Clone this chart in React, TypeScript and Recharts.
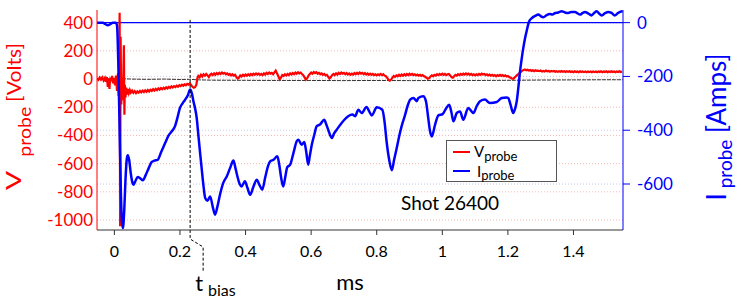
import { LineChart, Line, XAxis, YAxis, CartesianGrid, ReferenceLine } from "recharts";

const FONT = "Lato, 'Open Sans', sans-serif";
const RED = "#ff0000";
const BLUE = "#0000ff";

// axes
const timeTicks = [0, 0.2, 0.4, 0.6, 0.8, 1, 1.2, 1.4];
const voltTicks = [-1000, -800, -600, -400, -200, 0, 200, 400];
const ampTicks = [-600, -400, -200, 0];
const biasTime = 0.231;
const shotLabel = "Shot 26400";

// I_probe [A] vs time [ms]
const currentTrace: [number, number][] = [
  [-0.053, 0], [-0.035, 0], [-0.028, -5], [-0.02, -10], [-0.012, -5], [-0.005, 0], [0.004, 0],
  [0.008, -10], [0.012, -150], [0.016, -400], [0.02, -640], [0.023, -740], [0.026, -764],
  [0.03, -700], [0.034, -580], [0.038, -505], [0.041, -493], [0.045, -510], [0.05, -560],
  [0.055, -595], [0.058, -603], [0.063, -592], [0.071, -574], [0.078, -578], [0.087, -586],
  [0.095, -568], [0.105, -540], [0.114, -518], [0.122, -513], [0.132, -510], [0.143, -480],
  [0.155, -447], [0.165, -420], [0.175, -404], [0.185, -385], [0.192, -355], [0.2, -317],
  [0.208, -300], [0.216, -286], [0.224, -270], [0.231, -249], [0.236, -262], [0.241, -292],
  [0.246, -318], [0.251, -354], [0.256, -417], [0.261, -480], [0.266, -540], [0.272, -610],
  [0.277, -652], [0.284, -662], [0.292, -646], [0.3, -685], [0.307, -714], [0.314, -685],
  [0.322, -640], [0.332, -596], [0.343, -571], [0.353, -540], [0.363, -513], [0.369, -540],
  [0.375, -571], [0.382, -600], [0.388, -609], [0.398, -590], [0.406, -615], [0.414, -640],
  [0.424, -610], [0.434, -584], [0.443, -605], [0.451, -621], [0.46, -575], [0.468, -535],
  [0.475, -516], [0.485, -510], [0.497, -497], [0.503, -530], [0.509, -580], [0.515, -609],
  [0.521, -575], [0.527, -538], [0.536, -528], [0.546, -485], [0.556, -441], [0.561, -435],
  [0.571, -454], [0.579, -444], [0.585, -480], [0.591, -528], [0.596, -495], [0.602, -454],
  [0.61, -415], [0.617, -385], [0.627, -379], [0.64, -361], [0.646, -378], [0.652, -398],
  [0.663, -429], [0.67, -412], [0.678, -398], [0.693, -373], [0.713, -348], [0.726, -342],
  [0.734, -348], [0.744, -324], [0.754, -336], [0.769, -314], [0.777, -330], [0.785, -345],
  [0.8, -315], [0.817, -324], [0.824, -370], [0.83, -441], [0.838, -510], [0.846, -549],
  [0.853, -510], [0.861, -466], [0.868, -425], [0.876, -385], [0.886, -345], [0.894, -310],
  [0.902, -286], [0.912, -280], [0.922, -292], [0.927, -280], [0.942, -274], [0.95, -292],
  [0.957, -354], [0.962, -400], [0.968, -423], [0.978, -379], [0.988, -345], [1.001, -340],
  [1.011, -320], [1.021, -305], [1.028, -335], [1.034, -367], [1.044, -336], [1.054, -330],
  [1.064, -361], [1.079, -317], [1.095, -336], [1.105, -310], [1.115, -292], [1.13, -286],
  [1.145, -299], [1.166, -295], [1.181, -280], [1.196, -278], [1.201, -280], [1.208, -305],
  [1.216, -336], [1.222, -320], [1.227, -292], [1.232, -240], [1.237, -181], [1.242, -135],
  [1.247, -94], [1.252, -60], [1.257, -32], [1.265, 5], [1.273, 17], [1.283, 25], [1.293, 30],
  [1.3, 24], [1.308, 20], [1.318, 28], [1.328, 32], [1.336, 30], [1.344, 36], [1.354, 38],
  [1.364, 42], [1.374, 38], [1.384, 36], [1.394, 40], [1.405, 40], [1.412, 35], [1.42, 30],
  [1.428, 36], [1.435, 40], [1.445, 34], [1.455, 27], [1.463, 36], [1.471, 42], [1.478, 34],
  [1.486, 27], [1.496, 35], [1.506, 40], [1.516, 36], [1.526, 27], [1.534, 34], [1.542, 40],
  [1.55, 42],
];

// V_probe [V] vs time [ms]
const voltageTrace: [number, number][] = [
  [-0.053, 5], [-0.049, -6], [-0.045, 10], [-0.041, -4], [-0.037, 12], [-0.033, -10], [-0.029, 8],
  [-0.026, -18], [-0.023, 14], [-0.02, -55], [-0.018, 6], [-0.015, -70], [-0.013, 10], [-0.01, -15],
  [-0.007, 22], [-0.004, -30], [-0.001, 8], [0.002, -45], [0.005, 25], [0.008, -85], [0.011, 40],
  [0.013, -120], [0.015, 60], [0.016, 470], [0.0175, -1045], [0.019, 300], [0.021, -180],
  [0.023, -60], [0.025, -150], [0.027, -20], [0.029, 240], [0.0305, -253], [0.032, -40],
  [0.034, -130], [0.036, -60], [0.038, -110], [0.041, -70], [0.044, -100], [0.047, -78],
  [0.05, -96], [0.054, -82], [0.058, -98], [0.062, -86], [0.066, -100], [0.07, -88], [0.074, -96],
  [0.078, -84], [0.082, -94], [0.086, -82], [0.09, -92], [0.094, -80], [0.098, -90], [0.102, -78],
  [0.106, -88], [0.11, -76], [0.114, -84], [0.118, -72], [0.122, -82], [0.126, -70], [0.13, -78],
  [0.134, -66], [0.138, -75], [0.142, -64], [0.146, -72], [0.15, -62], [0.154, -70], [0.158, -58],
  [0.162, -66], [0.166, -56], [0.17, -63], [0.174, -52], [0.178, -60], [0.182, -50], [0.186, -57],
  [0.19, -47], [0.194, -54], [0.198, -44], [0.202, -50], [0.206, -40], [0.21, -47], [0.214, -38],
  [0.218, -44], [0.222, -34], [0.226, -40], [0.23, -32], [0.234, -42], [0.238, -55], [0.242, -62],
  [0.246, -58], [0.25, -40], [0.253, 5], [0.256, 22], [0.26, 12], [0.264, 30], [0.268, 18],
  [0.272, 34], [0.276, 24], [0.28, 36], [0.284, 26], [0.288, 14], [0.292, 30], [0.296, 38],
  [0.3, 28], [0.304, 40], [0.308, 30], [0.312, 42], [0.316, 34], [0.32, 44], [0.324, 36],
  [0.328, 46], [0.332, 38], [0.336, 44], [0.34, 34], [0.344, 40], [0.348, 30], [0.352, 36],
  [0.356, 26], [0.36, 34], [0.364, 24], [0.368, 30], [0.372, 14], [0.376, 4], [0.38, 10],
  [0.384, 26], [0.388, 18], [0.392, 30], [0.396, 22], [0.4, 32], [0.404, 24], [0.408, 34],
  [0.412, 26], [0.416, 36], [0.42, 28], [0.424, 38], [0.428, 30], [0.432, 40], [0.436, 32],
  [0.44, 38], [0.444, 30], [0.448, 36], [0.452, 28], [0.456, 40], [0.46, 32], [0.464, 44],
  [0.468, 36], [0.472, 46], [0.476, 38], [0.48, 44], [0.484, 34], [0.488, 48], [0.492, 60],
  [0.496, 40], [0.5, 20], [0.504, -2], [0.508, 10], [0.512, 28], [0.516, 22], [0.52, 34],
  [0.524, 26], [0.528, 36], [0.532, 28], [0.536, 40], [0.54, 32], [0.544, 42], [0.548, 34],
  [0.552, 46], [0.556, 38], [0.56, 48], [0.564, 40], [0.568, 46], [0.572, 36], [0.576, 28],
  [0.58, 12], [0.584, -4], [0.588, 6], [0.592, 24], [0.596, 36], [0.6, 46], [0.604, 38],
  [0.608, 50], [0.612, 42], [0.616, 48], [0.62, 38], [0.624, 44], [0.628, 34], [0.632, 40],
  [0.636, 30], [0.64, 36], [0.644, 26], [0.648, 30], [0.652, 16], [0.656, 4], [0.66, 14],
  [0.664, 28], [0.668, 36], [0.672, 28], [0.676, 40], [0.68, 32], [0.684, 44], [0.688, 36],
  [0.692, 46], [0.696, 38], [0.7, 44], [0.704, 34], [0.708, 42], [0.712, 32], [0.716, 40],
  [0.72, 30], [0.724, 38], [0.728, 32], [0.732, 42], [0.736, 34], [0.74, 44], [0.744, 36],
  [0.748, 46], [0.752, 38], [0.756, 44], [0.76, 34], [0.764, 42], [0.768, 32], [0.772, 40],
  [0.776, 30], [0.78, 38], [0.784, 30], [0.788, 36], [0.792, 28], [0.796, 34], [0.8, 26],
  [0.804, 34], [0.808, 28], [0.812, 36], [0.816, 28], [0.82, 34], [0.824, 24], [0.828, 20],
  [0.832, 8], [0.836, -6], [0.84, -12], [0.844, -4], [0.848, 10], [0.852, 22], [0.856, 16],
  [0.86, 26], [0.864, 20], [0.868, 30], [0.872, 22], [0.876, 32], [0.88, 24], [0.884, 34],
  [0.888, 26], [0.892, 36], [0.896, 28], [0.9, 38], [0.904, 30], [0.908, 36], [0.912, 28],
  [0.916, 34], [0.92, 26], [0.924, 32], [0.928, 24], [0.932, 30], [0.936, 22], [0.94, 28],
  [0.944, 20], [0.948, 16], [0.952, 8], [0.956, 2], [0.96, 6], [0.964, 18], [0.968, 26],
  [0.972, 20], [0.976, 30], [0.98, 24], [0.984, 34], [0.988, 28], [0.992, 36], [0.996, 30],
  [1.0, 38], [1.004, 30], [1.008, 36], [1.012, 28], [1.016, 34], [1.02, 36], [1.024, 26],
  [1.028, 14], [1.032, 10], [1.036, 20], [1.04, 30], [1.044, 24], [1.048, 34], [1.052, 28],
  [1.056, 36], [1.06, 30], [1.064, 38], [1.068, 32], [1.072, 40], [1.076, 32], [1.08, 38],
  [1.084, 30], [1.088, 36], [1.092, 28], [1.096, 34], [1.1, 26], [1.104, 34], [1.108, 28],
  [1.112, 36], [1.116, 30], [1.12, 38], [1.124, 32], [1.128, 36], [1.132, 28], [1.136, 34],
  [1.14, 26], [1.144, 32], [1.148, 24], [1.152, 30], [1.156, 22], [1.16, 28], [1.164, 20],
  [1.168, 28], [1.172, 22], [1.176, 30], [1.18, 22], [1.184, 28], [1.188, 20], [1.192, 26],
  [1.196, 18], [1.2, 22], [1.204, 14], [1.208, 10], [1.212, 4], [1.216, 2], [1.22, 10],
  [1.224, 18], [1.228, 28], [1.232, 36], [1.236, 44], [1.24, 52], [1.244, 60], [1.248, 64],
  [1.252, 68], [1.256, 62], [1.26, 66], [1.264, 60], [1.268, 64], [1.272, 58], [1.276, 62],
  [1.28, 56], [1.284, 62], [1.288, 58], [1.292, 60], [1.296, 56], [1.3, 60], [1.304, 54],
  [1.308, 58], [1.312, 54], [1.316, 60], [1.32, 55], [1.324, 58], [1.328, 52], [1.332, 58],
  [1.336, 54], [1.34, 57], [1.344, 52], [1.348, 56], [1.352, 51], [1.356, 56], [1.36, 52],
  [1.364, 57], [1.368, 51], [1.372, 55], [1.376, 50], [1.38, 56], [1.384, 51], [1.388, 55],
  [1.392, 50], [1.396, 54], [1.4, 49], [1.404, 55], [1.408, 50], [1.412, 54], [1.416, 49],
  [1.42, 55], [1.424, 50], [1.428, 54], [1.432, 49], [1.436, 53], [1.44, 48], [1.444, 54],
  [1.448, 49], [1.452, 53], [1.456, 48], [1.46, 54], [1.464, 49], [1.468, 53], [1.472, 48],
  [1.476, 54], [1.48, 50], [1.484, 55], [1.488, 49], [1.492, 54], [1.496, 50], [1.5, 55],
  [1.504, 49], [1.508, 54], [1.512, 50], [1.516, 55], [1.52, 50], [1.524, 54], [1.528, 49],
  [1.532, 54], [1.536, 50], [1.54, 55], [1.544, 50], [1.548, 54],
];

// black reference trace near 0 V
const zeroTrace: [number, number][] = [
  [-0.053, 0], [-0.03, 2], [0, -2], [0.02, 3], [0.05, 0], [0.1, -2], [0.15, 0], [0.2, -3],
  [0.23, -2], [0.26, -6], [0.3, -8], [0.4, -9], [0.5, -10], [0.6, -10], [0.7, -11], [0.8, -10],
  [0.9, -11], [1.0, -10], [1.1, -10], [1.2, -9], [1.3, -7], [1.4, -6], [1.5, -5], [1.55, -5],
];

const currentData = currentTrace.map(([t, i]) => ({ t, i }));
const voltageData = voltageTrace.map(([t, v]) => ({ t, v }));
const zeroData = zeroTrace.map(([t, v]) => ({ t, v }));

// dashed t_bias marker, continued below the axis with a kink
// eslint-disable-next-line @typescript-eslint/no-explicit-any
function BiasMarker(props: any) {
  const { x1, y1, y2 } = props;
  const top = Math.min(y1, y2);
  const bottom = Math.max(y1, y2);
  return (
    <g>
      <path
        d={`M${x1},${top} V${bottom + 9} L${x1 + 13},${bottom + 17} V${bottom + 42}`}
        fill="none"
        stroke="#000"
        strokeWidth={1}
        strokeDasharray="3 2"
      />
      <text x={x1 + 5} y={bottom + 61} fontFamily={FONT} fontSize={22} fill="#000">
        t
        <tspan fontSize={16} dx={5} dy={5}>
          bias
        </tspan>
      </text>
    </g>
  );
}

export default function App() {
  return (
    <div style={{ position: "absolute", left: 0, top: 0, width: 742, height: 302, background: "white", fontFamily: FONT }}>
      <LineChart width={742} height={302} margin={{ top: 10, right: 59, bottom: 42, left: 37 }}>
        <CartesianGrid yAxisId="v" vertical={false} stroke="#f4b8b8" strokeDasharray="1 2" horizontalValues={voltTicks} />
        <CartesianGrid yAxisId="i" vertical={false} stroke="#c8c8f0" strokeDasharray="1 2" horizontalValues={ampTicks} />
        <XAxis
          dataKey="t"
          type="number"
          domain={[-0.053, 1.551]}
          allowDataOverflow
          ticks={timeTicks}
          tickFormatter={(v: number) => String(v)}
          tick={{ fill: "#000", fontSize: 16, fontFamily: FONT }}
          axisLine={{ stroke: "#333" }}
          tickLine={{ stroke: "#333" }}
          tickSize={5}
          tickMargin={11}
        />
        <YAxis
          yAxisId="v"
          type="number"
          domain={[-1071, 490]}
          allowDataOverflow
          ticks={voltTicks}
          width={60}
          tick={{ fill: RED, fontSize: 17, fontFamily: FONT }}
          axisLine={{ stroke: RED }}
          tickLine={false}
          tickSize={0}
          tickMargin={4}
        />
        <YAxis
          yAxisId="i"
          orientation="right"
          type="number"
          domain={[-771, 47]}
          allowDataOverflow
          ticks={ampTicks}
          width={60}
          tick={{ fill: BLUE, fontSize: 17, fontFamily: FONT, textAnchor: "start" }}
          axisLine={{ stroke: BLUE }}
          tickLine={{ stroke: BLUE }}
          tickSize={7}
          tickMargin={7}
        />
        <ReferenceLine yAxisId="i" y={0} stroke={BLUE} strokeWidth={1.2} />
        <Line
          yAxisId="v"
          data={zeroData}
          dataKey="v"
          type="linear"
          stroke="#333"
          strokeWidth={1}
          strokeDasharray="4 1"
          dot={false}
          isAnimationActive={false}
        />
        <Line
          yAxisId="v"
          data={voltageData}
          dataKey="v"
          name="Vprobe"
          type="linear"
          stroke={RED}
          strokeWidth={2.2}
          dot={false}
          isAnimationActive={false}
        />
        <Line
          yAxisId="i"
          data={currentData}
          dataKey="i"
          name="Iprobe"
          type="monotone"
          stroke={BLUE}
          strokeWidth={2.5}
          dot={false}
          isAnimationActive={false}
        />
        <ReferenceLine
          yAxisId="i"
          ifOverflow="visible"
          segment={[{ x: biasTime, y: 10 }, { x: biasTime, y: -771 }]}
          shape={BiasMarker}
        />
      </LineChart>

      {/* titles, legend, annotation */}
      <svg width={742} height={302} style={{ position: "absolute", left: 0, top: 0, pointerEvents: "none" }}>
        <g fontFamily={FONT} fill={RED} textAnchor="middle">
          <text transform="translate(21,180.5) rotate(-90)" fontSize={21} textLength={19} lengthAdjust="spacingAndGlyphs">
            V
          </text>
          <text transform="translate(30.5,131.7) rotate(-90)" fontSize={17} textLength={50} lengthAdjust="spacingAndGlyphs">
            probe
          </text>
          <text transform="translate(21,72.4) rotate(-90)" fontSize={20} textLength={59} lengthAdjust="spacingAndGlyphs">
            [Volts]
          </text>
        </g>
        <text transform="translate(726,127) rotate(-90)" textAnchor="middle" fontFamily={FONT} fontSize={26} fill={BLUE}>
          I
          <tspan fontSize={19} dy={6}> probe</tspan>
          <tspan dy={-6}> [Amps]</tspan>
        </text>
        <text x={350} y={290} textAnchor="middle" fontFamily={FONT} fontSize={22} fill="#000">
          ms
        </text>
        <text x={401} y={210} fontFamily={FONT} fontSize={19} fill="#000">
          {shotLabel}
        </text>
        <rect x={446.5} y={140.5} width={110} height={41} fill="#fff" stroke="#555" strokeWidth={1} />
        <line x1={453} y1={152} x2={470} y2={152} stroke={RED} strokeWidth={2} />
        <text x={474} y={157} fontFamily={FONT} fontSize={15} fill="#000">
          V<tspan fontSize={13} dy={4}>probe</tspan>
        </text>
        <line x1={453} y1={171} x2={470} y2={171} stroke={BLUE} strokeWidth={2} />
        <text x={477} y={177} fontFamily={FONT} fontSize={15} fill="#000">
          I<tspan fontSize={13} dy={3}>probe</tspan>
        </text>
      </svg>
    </div>
  );
}
